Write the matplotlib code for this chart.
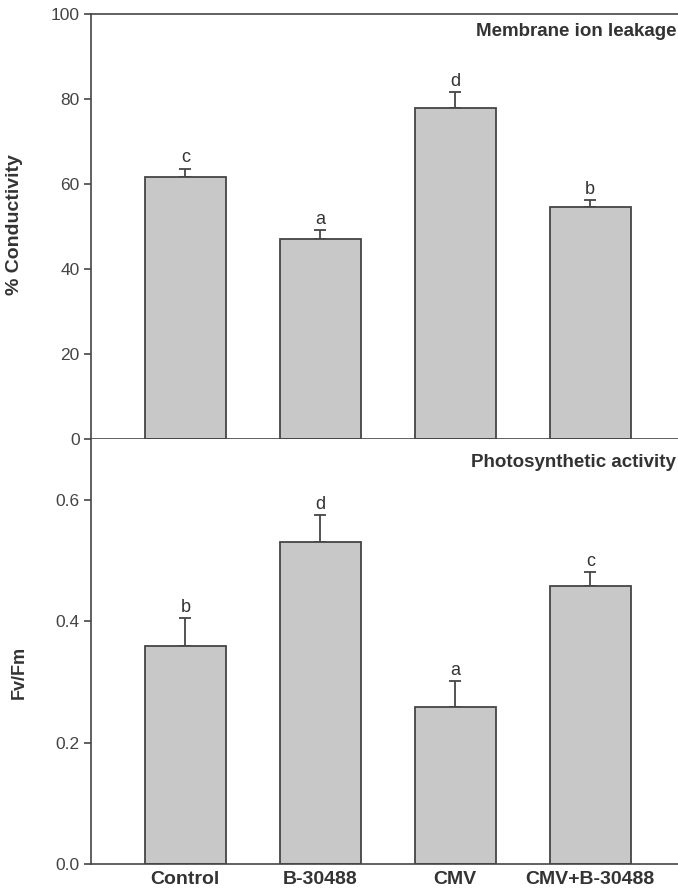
import numpy as np
import matplotlib
matplotlib.use("Agg")
import matplotlib.pyplot as plt

plt.rcParams['font.family'] = ['Liberation Sans', 'DejaVu Sans']

groups = ['Control', 'B-30488', 'CMV', 'CMV+B-30488']

# membrane ion leakage (% conductivity)
cond_mean = [61.6, 47.0, 77.9, 54.7]
cond_err = [2.0, 2.1, 3.7, 1.5]
cond_letters = ['c', 'a', 'd', 'b']

# photosynthetic activity (Fv/Fm)
fvfm_mean = [0.360, 0.530, 0.259, 0.458]
fvfm_err = [0.046, 0.046, 0.043, 0.023]
fvfm_letters = ['b', 'd', 'a', 'c']

bar_col = '#c8c8c9'
edge_col = '#454545'
txt_col = '#333333'

fig = plt.figure(figsize=(6.78, 8.93), dpi=100)
ax1 = fig.add_axes([0.134, 0.508, 0.866, 0.4765])
ax2 = fig.add_axes([0.134, 0.0325, 0.866, 0.4755])

x = np.arange(len(groups))


def draw(ax, mean, err, letters, ymax, off):
    ax.bar(x, mean, width=0.6, color=bar_col, edgecolor=edge_col, linewidth=1.3, zorder=2)
    ax.errorbar(x, mean, yerr=[np.zeros(len(mean)), err], fmt='none',
                ecolor=edge_col, elinewidth=1.3, capsize=4, capthick=1.3, zorder=1)
    for xi, m, e, l in zip(x, mean, err, letters):
        ax.text(xi, m + e + off, l, ha='center', va='bottom', fontsize=13, color=txt_col)
    ax.set_xlim(-0.7, 3.65)
    ax.set_ylim(0, ymax)
    ax.spines['right'].set_visible(False)
    for s in ax.spines.values():
        s.set_color(edge_col)
        s.set_linewidth(1.2)
    ax.tick_params(axis='y', direction='out', length=5, width=1.2, color=edge_col,
                   labelsize=12.5, labelcolor='#444444', pad=3)


draw(ax1, cond_mean, cond_err, cond_letters, 100, 0.6)
ax1.set_yticks([0, 20, 40, 60, 80, 100])
ax1.set_xticks([])
ax1.set_ylabel('% Conductivity', fontsize=14, fontweight='bold', color=txt_col)
ax1.yaxis.set_label_coords(-0.115, 0.505)
ax1.text(0.997, 0.978, 'Membrane ion leakage', transform=ax1.transAxes, ha='right', va='top',
         fontsize=13.5, fontweight='bold', color=txt_col)

draw(ax2, fvfm_mean, fvfm_err, fvfm_letters, 0.7, 0.003)
ax2.spines['top'].set_visible(False)
ax2.set_yticks([0.0, 0.2, 0.4, 0.6])
ax2.set_yticklabels(['0.0', '0.2', '0.4', '0.6'])
ax2.set_xticks(x)
ax2.set_xticklabels(groups, fontsize=14, fontweight='bold', color=txt_col)
ax2.tick_params(axis='x', length=0, pad=5)
ax2.set_ylabel('Fv/Fm', fontsize=13, fontweight='bold', color=txt_col)
ax2.yaxis.set_label_coords(-0.108, 0.45)
ax2.text(0.997, 0.965, 'Photosynthetic activity', transform=ax2.transAxes, ha='right', va='top',
         fontsize=13.5, fontweight='bold', color=txt_col)

fig.savefig('out.png', dpi=100)
